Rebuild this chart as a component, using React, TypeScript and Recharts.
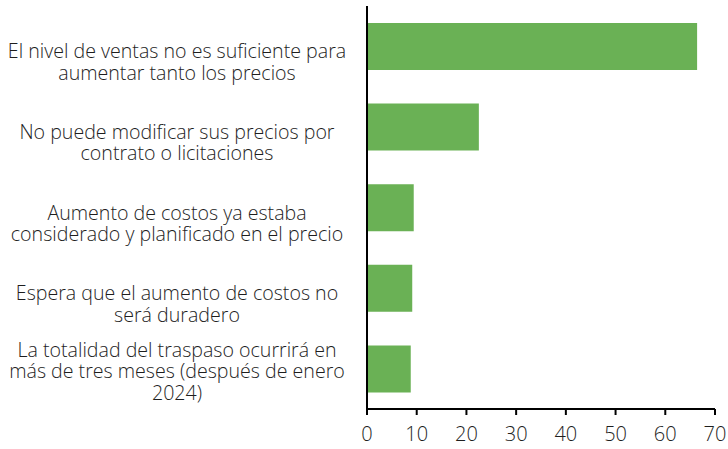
import { Bar, BarChart, XAxis, YAxis } from "recharts";

// Motivos (cada línea de la etiqueta separada por "\n")
const categories = [
  "El nivel de ventas no es suficiente para\naumentar tanto los precios",
  "No puede modificar sus precios por\ncontrato o licitaciones",
  "Aumento de costos ya estaba\nconsiderado y planificado en el precio",
  "Espera que el aumento de costos no\nserá duradero",
  "La totalidad del traspaso ocurrirá en\nmás de tres meses (después de enero\n2024)",
];

const values = [66.4, 22.5, 9.4, 9.1, 8.8];

const xTicks = [0, 10, 20, 30, 40, 50, 60, 70];

const data = categories.map((name, i) => ({ name, value: values[i] }));

const FONT = "'Open Sans', 'Noto Sans', sans-serif";
const GREEN = "#6ab155";

function CategoryTick(props: any) {
  const { x, y, payload } = props;
  const lines: string[] = String(payload.value).split("\n");
  const lineH = 21.5;
  const first = lines.length > 2 ? -12 : 12;
  const cx = x - 182;
  return (
    <text
      x={cx}
      y={y + first}
      textAnchor="middle"
      fontFamily={FONT}
      fontSize={19.6}
      fontWeight={300}
      fill="#1e1e1e"
    >
      {lines.map((line, i) => (
        <tspan key={i} x={cx} dy={i === 0 ? 0 : lineH}>
          {line}
        </tspan>
      ))}
    </text>
  );
}

export default function App() {
  return (
    <div style={{ position: "absolute", left: 0, top: 0, background: "#fff" }}>
      <BarChart
        width={728}
        height={449}
        data={data}
        layout="vertical"
        margin={{ top: 6, right: 13, bottom: 0, left: 0 }}
      >
        <XAxis
          type="number"
          domain={[0, 70]}
          ticks={xTicks}
          interval={0}
          height={40}
          axisLine={{ stroke: "#000", strokeWidth: 2 }}
          tickLine={{ stroke: "#000", strokeWidth: 2 }}
          tickSize={6}
          tickMargin={12}
          tick={{ fontFamily: FONT, fontSize: 20, fontWeight: 300, fill: "#1e1e1e" }}
        />
        <YAxis
          type="category"
          dataKey="name"
          width={367}
          axisLine={{ stroke: "#000", strokeWidth: 2 }}
          tickLine={false}
          interval={0}
          tick={<CategoryTick />}
        />
        <Bar dataKey="value" fill={GREEN} barSize={47} isAnimationActive={false} />
      </BarChart>
    </div>
  );
}
